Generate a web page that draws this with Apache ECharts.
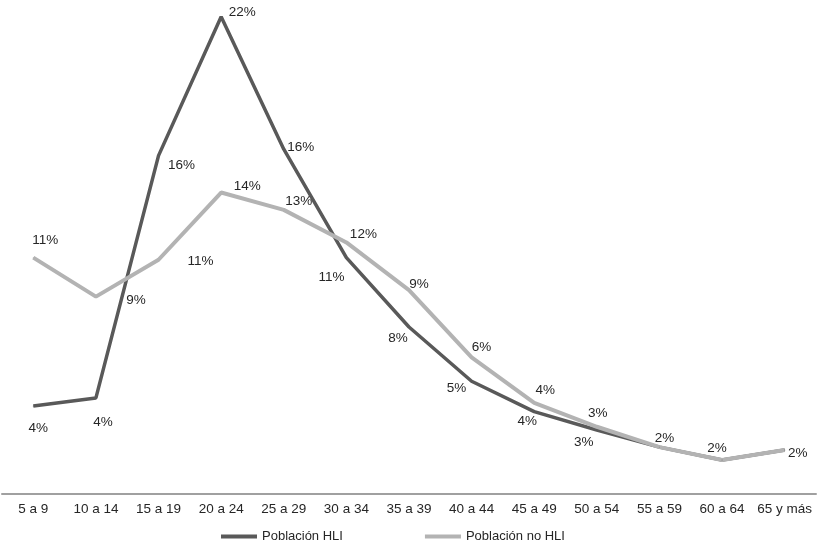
<!DOCTYPE html>
<html>
<head>
<meta charset="utf-8">
<script src="https://cdn.jsdelivr.net/npm/echarts@6/dist/echarts.min.js"></script>
<style>
html,body{margin:0;padding:0;background:#fff;}
#chart{width:819px;height:549px;}
</style>
</head>
<body>
<div id="chart"></div>
<script>
var categories = ["5 a 9","10 a 14","15 a 19","20 a 24","25 a 29","30 a 34","35 a 39","40 a 44","45 a 49","50 a 54","55 a 59","60 a 64","65 y más"];
var hliValues = [4.06, 4.43, 15.6, 22.0, 15.9, 10.9, 7.7, 5.2, 3.8, 2.95, 2.16, 1.57, 2.03];
var noHliValues = [10.9, 9.1, 10.8, 13.9, 13.1, 11.6, 9.4, 6.3, 4.2, 3.1, 2.16, 1.57, 2.03];
var seriesNames = ["Población HLI", "Población no HLI"];

// label offsets (style only); null = label not drawn (shared with the other series)
var hliLabelOffsets = [[5,22],[7,24],[23,10],[21,-5],[17,-2],[-15,20],[-11,11],[-15,7],[-7,10],[-13,12],null,null,null];
var noHliLabelOffsets = [[12,-17],[40,4],[42,2],[26,-6],[15,-9],[17,-8],[10,-6],[10,-10],[11,-13],[1,-13],[5,-9],[-5,-12],[13,3]];

function build(values, offsets) {
  return values.map(function (v, i) {
    var o = offsets[i];
    return o ? { value: v, label: { offset: o } } : { value: v, label: { show: false } };
  });
}

var chart = echarts.init(document.getElementById('chart'), null, {renderer: 'canvas'});
var font = 'Arial, "Liberation Sans", sans-serif';
var fs = 13.5;
chart.setOption({
  animation: false,
  backgroundColor: '#ffffff',
  textStyle: { fontFamily: font },
  grid: { left: 2, right: 3, top: 6, bottom: 55, containLabel: false },
  legend: {
    data: seriesNames,
    left: 216, top: 525,
    icon: 'rect',
    itemWidth: 36, itemHeight: 4,
    itemGap: 82,
    textStyle: { fontSize: 13, color: '#262626', fontFamily: font }
  },
  xAxis: {
    type: 'category',
    data: categories,
    boundaryGap: true,
    axisLine: { lineStyle: { color: '#a0a0a0', width: 2 } },
    axisTick: { show: false },
    axisLabel: { color: '#262626', fontSize: fs, margin: 8, fontFamily: font, interval: 0 },
    splitLine: { show: false }
  },
  yAxis: {
    type: 'value', min: 0, max: 22.5,
    show: false,
    splitLine: { show: false }
  },
  series: [
    {
      name: seriesNames[0], type: 'line',
      data: build(hliValues, hliLabelOffsets),
      symbol: 'circle', symbolSize: 1, showSymbol: true,
      color: '#595959',
      lineStyle: { color: '#595959', width: 3.5 },
      itemStyle: { color: '#595959' },
      label: {
        show: true, position: 'inside', fontSize: fs, color: '#262626', fontFamily: font,
        formatter: function (p) { return Math.round(p.value) + '%'; }
      },
      emphasis: { disabled: true }
    },
    {
      name: seriesNames[1], type: 'line',
      data: build(noHliValues, noHliLabelOffsets),
      symbol: 'circle', symbolSize: 1, showSymbol: true,
      color: '#b3b3b3',
      lineStyle: { color: '#b3b3b3', width: 4 },
      itemStyle: { color: '#b3b3b3' },
      label: {
        show: true, position: 'inside', fontSize: fs, color: '#262626', fontFamily: font,
        formatter: function (p) { return Math.round(p.value) + '%'; }
      },
      emphasis: { disabled: true }
    }
  ]
});
</script>
</body>
</html>
